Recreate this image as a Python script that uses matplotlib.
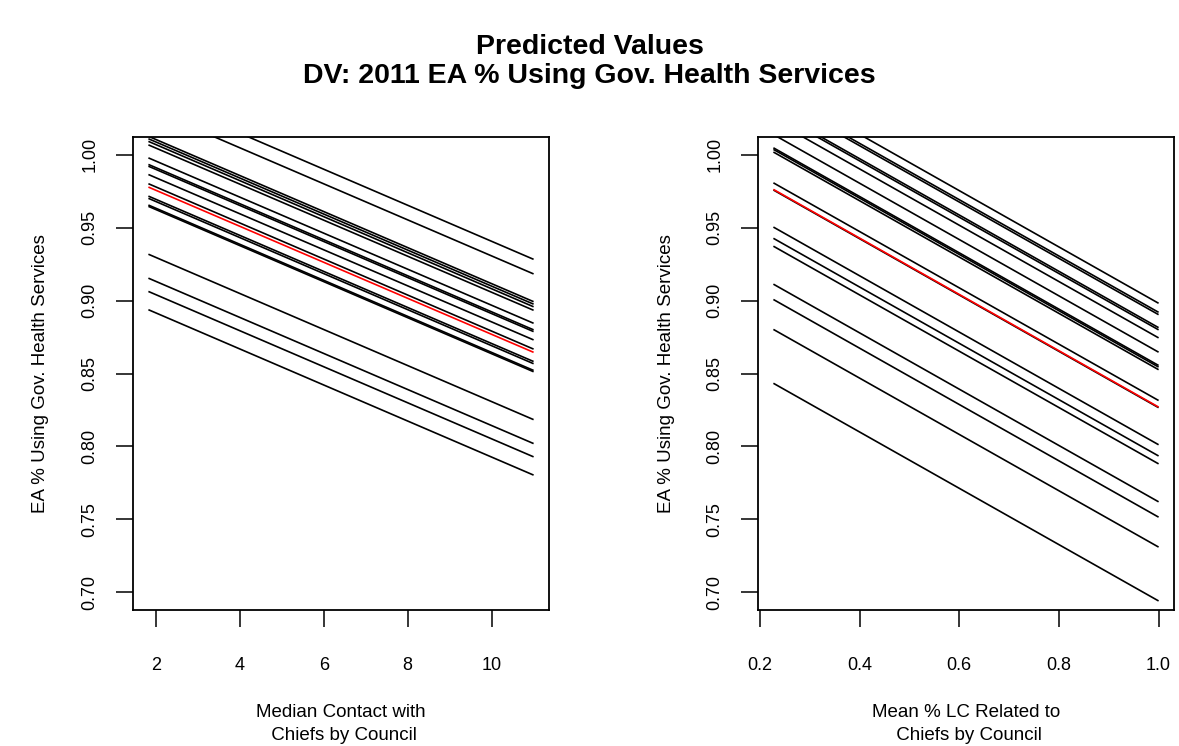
import numpy as np
import matplotlib
matplotlib.use("Agg")
import matplotlib.pyplot as plt

plt.rcParams['font.family'] = ['Liberation Sans', 'DejaVu Sans']

# left panel: median contact with chiefs, one line per council
contact_x = [1.82, 11.0]
contact_start = [1.0415, 1.0315, 1.0125, 1.0108, 1.0090, 1.0066, 0.9977, 0.9932,
                 0.9920, 0.9863, 0.9800, 0.9715, 0.9700, 0.9654, 0.9645, 0.9317,
                 0.9153, 0.9062, 0.8937]
contact_end = [0.9282, 0.9182, 0.8992, 0.8975, 0.8957, 0.8933, 0.8844, 0.8799,
               0.8787, 0.8730, 0.8667, 0.8582, 0.8567, 0.8521, 0.8512, 0.8184,
               0.8020, 0.7929, 0.7804]
contact_mean = [0.9777, 0.8645]

# right panel: mean % LC related to chiefs
related_x = [0.227, 1.0]
related_start = [1.0472, 1.0410, 1.0394, 1.0305, 1.0290, 1.0235, 1.0137,
                 1.0046, 1.0035, 1.0017, 0.9806, 0.9757, 0.9503, 0.9426, 0.9372,
                 0.9112, 0.9007, 0.8802, 0.8433]
related_end = [0.8981, 0.8919, 0.8903, 0.8814, 0.8799, 0.8744, 0.8646,
               0.8555, 0.8544, 0.8526, 0.8315, 0.8266, 0.8012, 0.7935, 0.7881,
               0.7621, 0.7516, 0.7311, 0.6942]
related_mean = [0.9761, 0.8270]

y_ticks = [0.70, 0.75, 0.80, 0.85, 0.90, 0.95, 1.00]
contact_ticks = [2, 4, 6, 8, 10]
related_ticks = [0.2, 0.4, 0.6, 0.8, 1.0]

W, H = 1179, 746
fig = plt.figure(figsize=(W / 100, H / 100), dpi=100)

def px_axes(x0, y0, x1, y1):
    return fig.add_axes([x0 / W, 1 - y1 / H, (x1 - x0) / W, (y1 - y0) / H])

def panel(ax, xs, starts, ends, mean, xticks, xfmt):
    for s, e in zip(starts, ends):
        ax.plot(xs, [s, e], color='black', lw=1.2, solid_capstyle='butt')
    ax.plot(xs, mean, color='#ff0000', lw=1.2, solid_capstyle='butt')
    pad = 0.04 * (xs[1] - xs[0])
    ax.set_xlim(xs[0] - pad, xs[1] + pad)
    ax.set_ylim(0.688, 1.012)
    ax.set_xticks(xticks)
    ax.set_xticklabels([xfmt % t for t in xticks])
    ax.set_yticks(y_ticks)
    ax.set_yticklabels(['%.2f' % t for t in y_ticks], rotation=90, va='center')
    ax.tick_params(axis='both', direction='out', length=12, width=1.1,
                   labelsize=13)
    ax.tick_params(axis='x', pad=22)
    ax.tick_params(axis='y', pad=13)
    for sp in ax.spines.values():
        sp.set_linewidth(1.3)

ax1 = px_axes(133, 137, 549, 610)
panel(ax1, contact_x, contact_start, contact_end, contact_mean, contact_ticks, '%d')
ax2 = px_axes(758, 137, 1174, 610)
panel(ax2, related_x, related_start, related_end, related_mean, related_ticks, '%.1f')

fig.text(589.5 / W, 1 - 47 / H, "Predicted Values", ha='center', va='center',
         fontsize=20.5, fontweight='bold')
fig.text(589.5 / W, 1 - 76 / H, "DV: 2011 EA % Using Gov. Health Services",
         ha='center', va='center', fontsize=20.5, fontweight='bold')

fig.text(41 / W, 1 - 373.5 / H, "EA % Using Gov. Health Services", rotation=90,
         ha='center', va='center', fontsize=13.5)
fig.text(666 / W, 1 - 373.5 / H, "EA % Using Gov. Health Services", rotation=90,
         ha='center', va='center', fontsize=13.5)

fig.text(341 / W, 1 - 724 / H, "Median Contact with\n Chiefs by Council",
         ha='center', va='center', fontsize=13.5, linespacing=1.45)
fig.text(966 / W, 1 - 724 / H, "Mean % LC Related to\n Chiefs by Council",
         ha='center', va='center', fontsize=13.5, linespacing=1.45)

fig.savefig("out.png", dpi=100)
